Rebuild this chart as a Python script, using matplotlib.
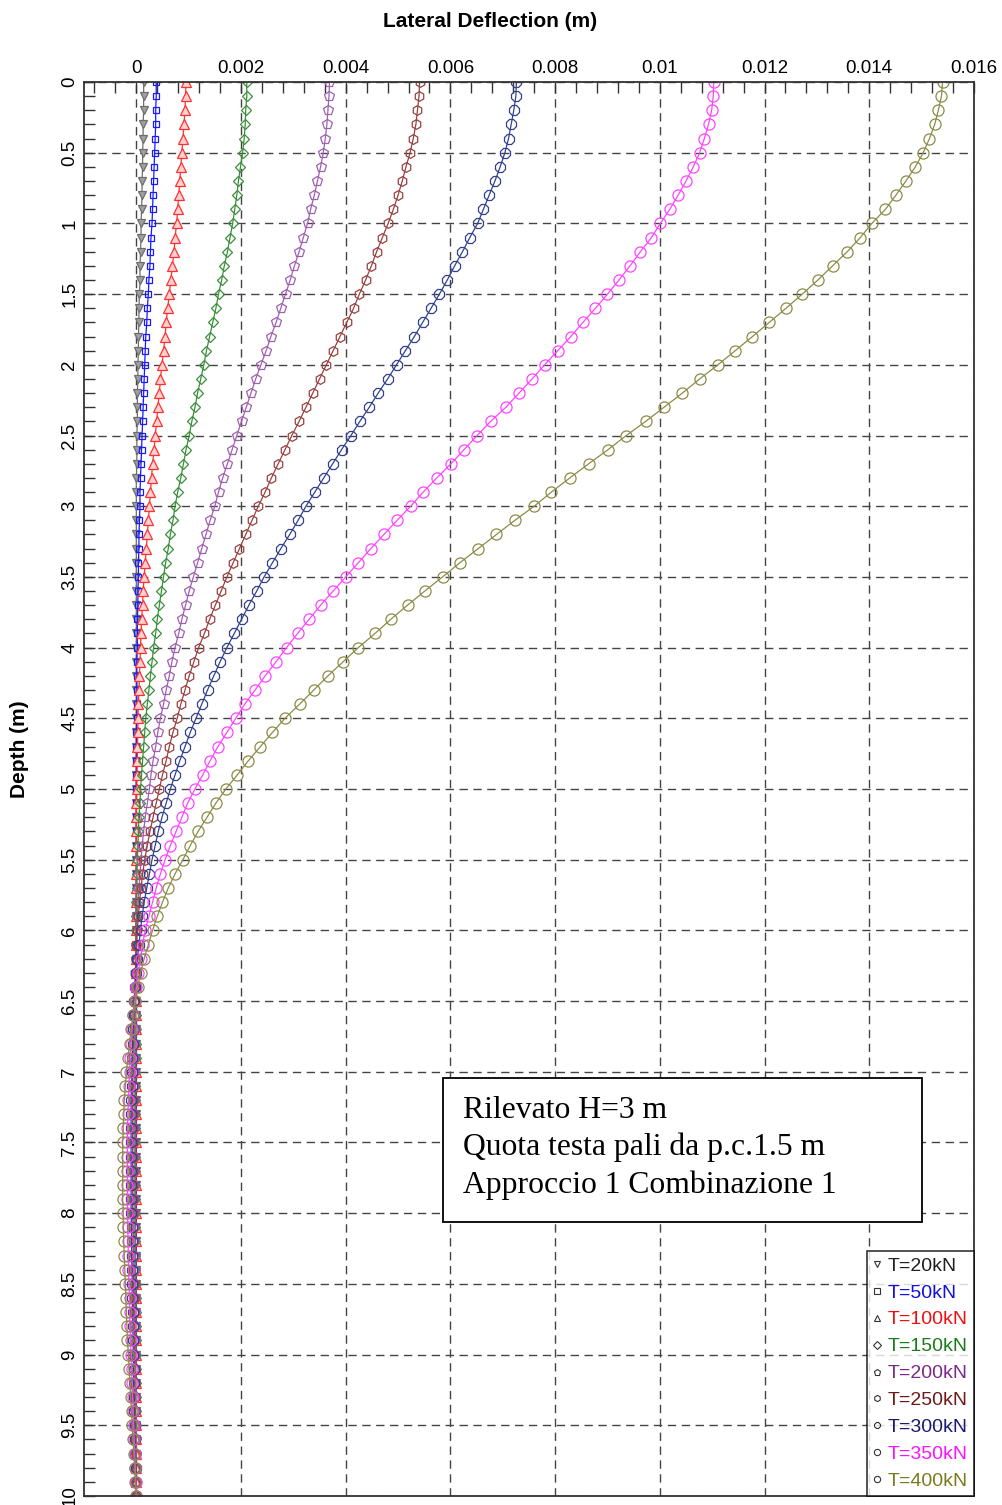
import matplotlib
matplotlib.use('Agg')
import numpy as np
import matplotlib.pyplot as plt
from matplotlib.lines import Line2D
from matplotlib.patches import Rectangle
from matplotlib.ticker import MultipleLocator, FormatStrFormatter

plt.rcParams['font.family'] = ['Liberation Sans', 'DejaVu Sans']

# depth every 0.1 m, from the pile head down to 10 m
depth = np.round(np.arange(101) * 0.1, 1)

# lateral deflection, in mm, one value per depth step
t20 = ([0.14, 0.14, 0.14, 0.13, 0.13, 0.12, 0.12, 0.11, 0.11, 0.10,
        0.09, 0.09, 0.08, 0.07, 0.07, 0.06, 0.05, 0.05, 0.04, 0.04,
        0.03, 0.03, 0.02, 0.02, 0.02, 0.01, 0.01, 0.01, 0.00, 0.00]
       + [0.0] * 71)

t50 = ([0.38, 0.38, 0.37, 0.37, 0.36, 0.35, 0.34, 0.33, 0.32, 0.31,
        0.30, 0.28, 0.27, 0.26, 0.24, 0.23, 0.21, 0.20, 0.18, 0.17,
        0.16, 0.15, 0.14, 0.13, 0.12, 0.11, 0.10, 0.09, 0.08, 0.07,
        0.07, 0.06, 0.05, 0.05, 0.04, 0.04, 0.03, 0.03, 0.02, 0.02,
        0.02, 0.01, 0.01, 0.01, 0.01, 0.01, 0.00, 0.00, 0.00, 0.00]
       + [0.0] * 51)

t100 = ([0.95, 0.94, 0.93, 0.91, 0.89, 0.87, 0.85, 0.83, 0.81, 0.79,
         0.77, 0.74, 0.72, 0.69, 0.66, 0.63, 0.60, 0.57, 0.55, 0.52,
         0.49, 0.46, 0.44, 0.41, 0.39, 0.36, 0.34, 0.31, 0.29, 0.27,
         0.25, 0.23, 0.21, 0.19, 0.17, 0.15, 0.13, 0.12, 0.10, 0.09,
         0.08, 0.07, 0.06, 0.05, 0.04, 0.03, 0.03, 0.02, 0.02, 0.01,
         0.01, 0.00, 0.00, 0.00, 0.00, 0.00, 0.00, 0.00, 0.00, 0.00]
        + [-0.01] * 30 + [0.0] * 11)

t150 = ([2.11, 2.11, 2.09, 2.08, 2.06, 2.03, 1.99, 1.95, 1.92, 1.88,
         1.84, 1.79, 1.74, 1.68, 1.63, 1.57, 1.52, 1.46, 1.40, 1.34,
         1.29, 1.23, 1.17, 1.12, 1.06, 1.01, 0.95, 0.90, 0.85, 0.79,
         0.74, 0.70, 0.65, 0.61, 0.56, 0.52, 0.48, 0.44, 0.40, 0.37,
         0.33, 0.30, 0.27, 0.24, 0.21, 0.18, 0.16, 0.14, 0.12, 0.10,
         0.08, 0.07, 0.05, 0.04, 0.03, 0.02, 0.01, 0.01, 0.00, 0.00]
        + [-0.01] * 10 + [-0.02] * 15 + [-0.01] * 10 + [0.0] * 6)

t200 = ([3.69, 3.68, 3.66, 3.64, 3.61, 3.57, 3.52, 3.46, 3.40, 3.33,
         3.27, 3.19, 3.11, 3.02, 2.94, 2.85, 2.76, 2.67, 2.57, 2.48,
         2.38, 2.28, 2.19, 2.10, 2.01, 1.92, 1.83, 1.74, 1.65, 1.57,
         1.50, 1.41, 1.33, 1.25, 1.17, 1.09, 1.01, 0.94, 0.87, 0.81,
         0.74, 0.68, 0.63, 0.57, 0.52, 0.46, 0.41, 0.37, 0.32, 0.28,
         0.25, 0.21, 0.17, 0.14, 0.11, 0.09, 0.07, 0.05, 0.03, 0.02,
         0.01, 0.00, -0.01, -0.01, -0.02, -0.02, -0.03, -0.03, -0.04, -0.04]
        + [-0.04] * 10
        + [-0.04, -0.04, -0.04, -0.03, -0.03, -0.03, -0.03, -0.03, -0.03, -0.03,
           -0.03, -0.02, -0.02, -0.02, -0.02, -0.02, -0.01, -0.01, -0.01, -0.01,
           0.00])

t250 = ([5.41, 5.40, 5.37, 5.34, 5.29, 5.23, 5.15, 5.08, 5.00, 4.91,
         4.81, 4.70, 4.59, 4.49, 4.38, 4.26, 4.15, 4.02, 3.89, 3.76,
         3.63, 3.50, 3.37, 3.24, 3.11, 2.97, 2.84, 2.71, 2.58, 2.46,
         2.33, 2.21, 2.09, 1.97, 1.85, 1.73, 1.62, 1.51, 1.40, 1.30,
         1.19, 1.10, 1.01, 0.93, 0.85, 0.78, 0.70, 0.63, 0.57, 0.50,
         0.44, 0.38, 0.32, 0.26, 0.21, 0.16, 0.12, 0.09, 0.06, 0.04,
         0.02, 0.00, -0.01, -0.02, -0.03, -0.04, -0.05, -0.05, -0.06, -0.06]
        + [-0.07] * 10
        + [-0.07, -0.06, -0.06, -0.06, -0.06, -0.05, -0.05, -0.05, -0.04, -0.04,
           -0.04, -0.03, -0.03, -0.03, -0.02, -0.02, -0.02, -0.01, -0.01, 0.00,
           0.00])

t300 = [7.26, 7.25, 7.21, 7.16, 7.11, 7.04, 6.95, 6.85, 6.74, 6.63,
        6.52, 6.37, 6.23, 6.08, 5.94, 5.79, 5.63, 5.47, 5.31, 5.14,
        4.97, 4.80, 4.62, 4.45, 4.27, 4.10, 3.92, 3.75, 3.58, 3.41,
        3.24, 3.09, 2.93, 2.76, 2.60, 2.44, 2.30, 2.15, 2.01, 1.87,
        1.73, 1.60, 1.48, 1.36, 1.25, 1.14, 1.03, 0.93, 0.83, 0.74,
        0.65, 0.57, 0.49, 0.42, 0.36, 0.30, 0.25, 0.20, 0.15, 0.11,
        0.08, 0.05, 0.02, 0.00, -0.02, -0.04, -0.05, -0.06, -0.07, -0.08,
        -0.09, -0.09, -0.10, -0.10, -0.10, -0.10, -0.10, -0.10, -0.10, -0.10,
        -0.10, -0.09, -0.09, -0.09, -0.08, -0.08, -0.08, -0.07, -0.07, -0.06,
        -0.06, -0.05, -0.05, -0.04, -0.04, -0.03, -0.03, -0.02, -0.01, -0.01,
        0.00]

t350 = [11.03, 11.02, 10.99, 10.93, 10.85, 10.76, 10.64, 10.50, 10.35, 10.19,
        10.01, 9.84, 9.63, 9.43, 9.22, 9.00, 8.77, 8.53, 8.30, 8.05,
        7.80, 7.56, 7.31, 7.06, 6.77, 6.51, 6.26, 6.01, 5.74, 5.48,
        5.24, 4.98, 4.73, 4.48, 4.24, 4.00, 3.76, 3.52, 3.30, 3.08,
        2.87, 2.67, 2.46, 2.27, 2.07, 1.90, 1.73, 1.56, 1.41, 1.27,
        1.12, 0.98, 0.87, 0.76, 0.65, 0.55, 0.46, 0.38, 0.31, 0.24,
        0.17, 0.12, 0.08, 0.03, 0.00, -0.03, -0.06, -0.08, -0.10, -0.12,
        -0.13, -0.14, -0.15, -0.16, -0.17, -0.17, -0.17, -0.17, -0.17, -0.17,
        -0.17, -0.16, -0.16, -0.15, -0.15, -0.14, -0.13, -0.13, -0.12, -0.11,
        -0.10, -0.09, -0.08, -0.07, -0.06, -0.05, -0.04, -0.03, -0.02, -0.01,
        0.00]

t400 = [15.40, 15.38, 15.32, 15.25, 15.15, 15.03, 14.88, 14.70, 14.51, 14.31,
        14.05, 13.83, 13.58, 13.30, 13.02, 12.72, 12.41, 12.09, 11.77, 11.44,
        11.11, 10.76, 10.43, 10.08, 9.73, 9.36, 9.01, 8.64, 8.28, 7.93,
        7.60, 7.23, 6.88, 6.53, 6.18, 5.85, 5.51, 5.18, 4.86, 4.56,
        4.24, 3.95, 3.66, 3.39, 3.12, 2.84, 2.60, 2.37, 2.14, 1.93,
        1.71, 1.52, 1.35, 1.18, 1.03, 0.89, 0.74, 0.61, 0.50, 0.40,
        0.31, 0.23, 0.15, 0.08, 0.03, -0.02, -0.06, -0.10, -0.13, -0.16,
        -0.19, -0.21, -0.23, -0.24, -0.25, -0.26, -0.26, -0.26, -0.26, -0.26,
        -0.25, -0.25, -0.24, -0.23, -0.22, -0.21, -0.20, -0.19, -0.18, -0.17,
        -0.15, -0.14, -0.12, -0.11, -0.09, -0.08, -0.06, -0.05, -0.03, -0.02,
        0.00]

labels = ['T=20kN', 'T=50kN', 'T=100kN', 'T=150kN', 'T=200kN',
          'T=250kN', 'T=300kN', 'T=350kN', 'T=400kN']
series = [t20, t50, t100, t150, t200, t250, t300, t350, t400]

line_colors = ['#6e6e6e', '#1a1aff', '#ff3030', '#3a8f3a', '#a060b0',
               '#9a4040', '#34418f', '#ff44ff', '#8c8c48']
text_colors = ['#202020', '#1010e0', '#ee1010', '#1a7a1a', '#7a2a8a',
               '#701818', '#1a1a70', '#ff10ff', '#7a7a20']
markers = ['v', 's', '^', 'D', 'p', 'h', '8', 'o', 'o']
msizes = [5.5, 5.0, 6.5, 5.5, 7.0, 7.0, 7.5, 8.0, 8.0]
face = ['#a0a0a0', 'none', '#ffd0d0', 'none', 'none', 'none', 'none', 'none', 'none']

fig = plt.figure(figsize=(10.02, 15.05), dpi=100)
ax = fig.add_axes([0.0838, 0.006, 0.8882, 0.9395])

for vals, lab, c, m, ms, fc in zip(series, labels, line_colors, markers, msizes, face):
    ax.plot(np.array(vals) / 1000.0, depth, color=c, lw=0.9, marker=m,
            ms=ms, mfc=fc, mec=c, mew=0.9, label=lab)

ax.set_xlim(-0.001, 0.016)
ax.set_ylim(10, 0)

ax.xaxis.tick_top()
ax.xaxis.set_label_position('top')
ax.xaxis.set_major_locator(MultipleLocator(0.002))
ax.xaxis.set_minor_locator(MultipleLocator(0.0004))
ax.xaxis.set_major_formatter(FormatStrFormatter('%g'))
ax.yaxis.set_major_locator(MultipleLocator(0.5))
ax.yaxis.set_minor_locator(MultipleLocator(0.1))
ax.yaxis.set_major_formatter(FormatStrFormatter('%g'))

ax.tick_params(which='both', direction='in', length=8, width=1.0,
               color='#333333', labelsize=13.5)
ax.tick_params(axis='x', which='both', top=True, bottom=False, pad=3.5)
ax.tick_params(axis='y', which='both', left=True, right=False, pad=4)
for t in ax.get_yticklabels():
    t.set_rotation(90)
    t.set_va('center')

ax.grid(True, which='major', color='#444444', lw=1.0, ls=(0, (6, 4)))
ax.set_axisbelow(True)
for s in ax.spines.values():
    s.set_color('#333333')
    s.set_linewidth(1.3)

ax.set_xlabel('Lateral Deflection (m)', fontsize=15, fontweight='bold')
ax.xaxis.set_label_coords(0.456, 1.039)
ax.set_ylabel('Depth (m)', fontsize=15, fontweight='bold')
ax.yaxis.set_label_coords(-0.062, 0.528)

# info box
ax.add_patch(Rectangle((0.4034, 0.1938), 0.5382, 0.1018, transform=ax.transAxes,
                       facecolor='white', edgecolor='black', lw=1.3, zorder=5))
ax.text(0.4258, 0.2462,
        'Rilevato H=3 m\nQuota testa pali da p.c.1.5 m\nApproccio 1 Combinazione 1',
        transform=ax.transAxes, family='Liberation Serif', fontsize=22.8,
        va='center', ha='left', linespacing=1.36, zorder=6)

handles = [Line2D([], [], ls='none', marker=m, ms=4.5, mfc='none',
                  mec='#333333', mew=0.8) for m in markers]
leg = ax.legend(handles, labels, loc='lower right', borderaxespad=0.0,
                fontsize=14, frameon=True, fancybox=False, edgecolor='black',
                handlelength=0.5, handletextpad=0.3, labelspacing=0.48,
                borderpad=0.3)
leg.get_frame().set_linewidth(1.2)
leg.set_zorder(7)
for t, c in zip(leg.get_texts(), text_colors):
    t.set_color(c)

fig.savefig('out.png', dpi=100)
